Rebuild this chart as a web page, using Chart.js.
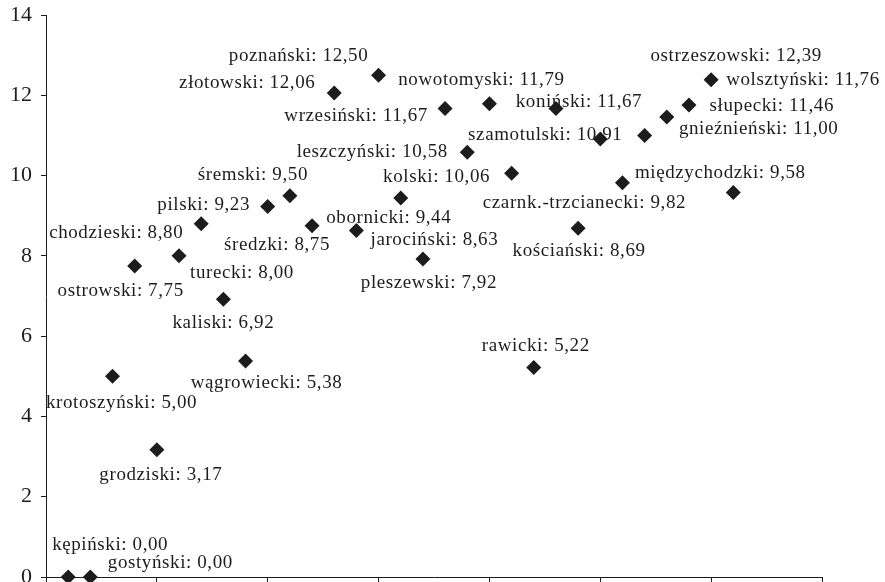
<!DOCTYPE html>
<html>
<head>
<meta charset="utf-8">
<script src="https://cdn.jsdelivr.net/npm/chart.js@4/dist/chart.umd.min.js"></script>
<style>
  html, body { margin: 0; padding: 0; background: #fff; }
  #wrap { width: 885px; height: 582px; position: relative; }
</style>
</head>
<body>
<div id="wrap"><canvas id="chart"></canvas></div>
<script>
// powiaty, ordered along the x axis (position 1..31)
const names = [
  'kępiński', 'gostyński', 'krotoszyński', 'ostrowski', 'grodziski', 'turecki',
  'chodzieski', 'kaliski', 'wągrowiecki', 'pilski', 'śremski', 'średzki',
  'złotowski', 'jarociński', 'poznański', 'obornicki', 'pleszewski', 'wrzesiński',
  'leszczyński', 'nowotomyski', 'kolski', 'rawicki', 'koniński', 'kościański',
  'szamotulski', 'czarnk.-trzcianecki', 'gnieźnieński', 'słupecki', 'wolsztyński',
  'ostrzeszowski', 'międzychodzki'
];
const positions = [
  1, 2, 3, 4, 5, 6, 7, 8, 9, 10, 11, 12, 13, 14, 15, 16,
  17, 18, 19, 20, 21, 22, 23, 24, 25, 26, 27, 28, 29, 30, 31
];
const values = [
  0.00, 0.00, 5.00, 7.75, 3.17, 8.00, 8.80, 6.92, 5.38, 9.23, 9.50, 8.75,
  12.06, 8.63, 12.50, 9.44, 7.92, 11.67, 10.58, 11.79, 10.06, 5.22, 11.67, 8.69,
  10.91, 9.82, 11.00, 11.46, 11.76, 12.39, 9.58
];
const yTicks = [0, 2, 4, 6, 8, 10, 12, 14];

// label placement relative to its marker (text centre, px)
const labelShift = [
  [42, -32], [80, -14], [9, 27], [-14, 25], [4, 25], [63, 17],
  [-85, 9], [0, 24], [21, 22], [-64, -1], [-37, -21], [-35, 19],
  [-87, -10], [78, 9], [-80, -19], [-12, 20], [6, 24], [-89, 7],
  [-95, 0], [-8, -24], [-75, 4], [2, -21], [23, -7], [1, 23],
  [-55, -4], [-38, 20], [114, -6], [105, -11], [114, -25],
  [25, -24], [-13, -19]
];

const INK = '#1e1b1c';
const SERIF = '"Liberation Serif", "Times New Roman", serif';

function fmt(v) {
  return v.toFixed(2).replace('.', ',');
}

const pointLabels = {
  id: 'pointLabels',
  afterDatasetsDraw(chart) {
    const ctx = chart.ctx;
    const meta = chart.getDatasetMeta(0);
    ctx.save();
    ctx.font = '19px ' + SERIF;
    ctx.letterSpacing = '0.6px';
    ctx.fillStyle = INK;
    ctx.textAlign = 'center';
    ctx.textBaseline = 'middle';
    meta.data.forEach((pt, i) => {
      const s = labelShift[i];
      ctx.fillText(names[i] + ': ' + fmt(values[i]), pt.x + s[0], pt.y + s[1]);
    });
    ctx.restore();
  }
};

new Chart(document.getElementById('chart'), {
  type: 'scatter',
  data: {
    datasets: [{
      data: positions.map((p, i) => ({ x: p, y: values[i] })),
      pointStyle: 'rectRot',
      pointRadius: 7.5,
      pointHoverRadius: 7.5,
      backgroundColor: INK,
      borderColor: INK,
      borderWidth: 0,
      clip: false,
    }]
  },
  options: {
    responsive: true,
    maintainAspectRatio: false,
    animation: false,
    // no automatic room for the markers: the zero-valued ones sit on the axis
    layout: { autoPadding: false, padding: { left: 0, right: 63, top: 15, bottom: 0 } },
    plugins: { legend: { display: false }, tooltip: { enabled: false } },
    scales: {
      x: {
        type: 'linear',
        min: 0, max: 35,
        ticks: { display: false, stepSize: 5 },
        afterFit: (scale) => {
          scale.height = 5;
          scale.paddingLeft = 0;
          scale.paddingRight = 0;
        },
        grid: { drawOnChartArea: false, drawTicks: true, tickLength: 5, color: INK, lineWidth: 1 },
        border: { display: true, color: INK, width: 1 },
      },
      y: {
        min: 0, max: 14,
        afterBuildTicks: (scale) => { scale.ticks = yTicks.map(v => ({ value: v })); },
        afterFit: (scale) => {
          scale.width = 46;
          scale.paddingTop = 0;
          scale.paddingBottom = 0;
        },
        ticks: {
          color: INK,
          padding: 9,
          font: { family: SERIF, size: 22, lineHeight: 0.2 },
        },
        grid: { drawOnChartArea: false, drawTicks: true, tickLength: 5, color: INK, lineWidth: 1 },
        border: { display: true, color: INK, width: 1 },
      },
    },
  },
  plugins: [pointLabels],
});
</script>
</body>
</html>
